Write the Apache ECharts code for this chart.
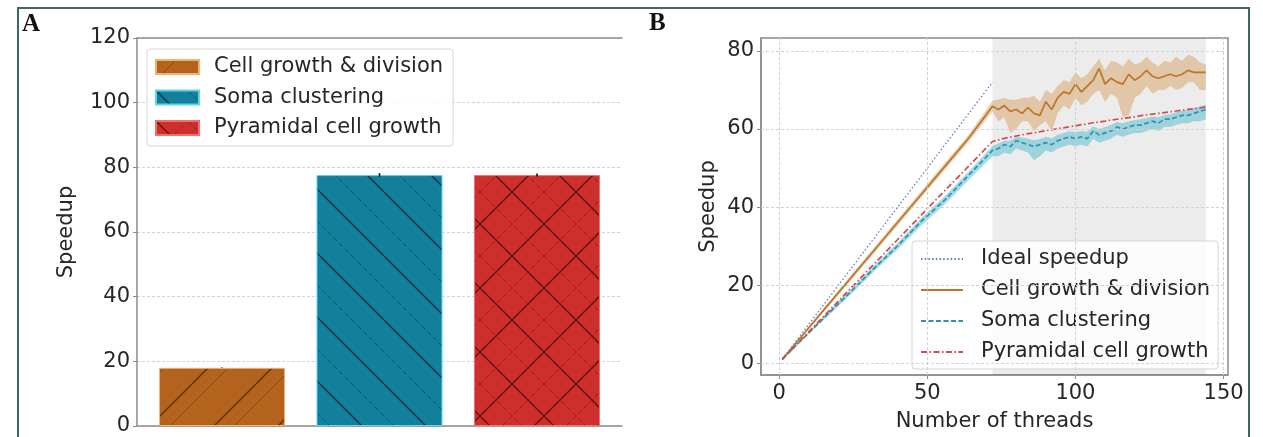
<!DOCTYPE html>
<html>
<head>
<meta charset="utf-8">
<script src="https://cdn.jsdelivr.net/npm/echarts@6/dist/echarts.min.js"></script>
<style>
html,body{margin:0;padding:0;background:#fff;}
#chart{width:1263px;height:437px;}
</style>
</head>
<body>
<div id="chart"></div>
<script>
// ---------- Panel A data ----------
const barCategories = ['Cell growth & division', 'Soma clustering', 'Pyramidal cell growth'];
const barPositions = [0, 1, 2];
const barSpeedup = [18.0, 77.6, 77.6];
const barErrLow = [17.9, 77.1, 77.2];
const barErrHigh = [18.1, 78.2, 78.1];
const yTicksA = [0, 20, 40, 60, 80, 100, 120];

// ---------- Panel B data ----------
const threads = [1, 8, 16, 24, 32, 40, 48, 56, 64, 72,
  74, 76, 78, 80, 82, 84, 86, 88, 90, 92,
  94, 96, 98, 100, 102, 104, 106, 108, 110, 112,
  114, 116, 118, 120, 122, 124, 126, 128, 130, 132,
  134, 136, 138, 140, 142, 144];
const idealThreads = [1, 72];
const idealSpeedup = [1, 72];
const cellMean = [1, 7.3, 14.5, 21.7, 28.9, 36.1, 43.3, 50.5, 57.7, 65.8,
  65, 66, 64.5, 65, 64, 65.5, 64, 63.5, 67, 65,
  68, 69.5, 69, 71.5, 69.5, 71, 72.5, 75.5, 71.5, 73,
  72, 71.5, 74, 72.5, 73.5, 75, 73.5, 73, 73.5, 74,
  73.5, 74, 75, 74.5, 74.5, 74.5];
const cellLow = [1, 7, 14, 21, 28.2, 35.3, 42.5, 49.6, 56.8, 64.5,
  62, 63, 59, 60, 62, 62, 59.5, 61, 62, 59.5,
  64, 66, 65, 68, 66, 67, 69, 70, 67, 69,
  68, 63, 63.5, 68, 69, 71, 69, 70, 70, 71,
  70, 70.5, 72, 72, 70, 70];
const cellHigh = [1, 7.6, 15, 22.4, 29.6, 36.9, 44.1, 51.4, 58.6, 67.2,
  67.5, 68, 67.5, 67.5, 68, 68, 68.5, 67, 70, 69,
  71, 72.5, 72, 74.5, 73, 74, 76, 78, 75, 77.5,
  77, 76, 78, 76.5, 77, 78.5, 77, 76, 77.5, 77,
  78.5, 77.5, 79, 78.5, 77, 76.5];
const somaMean = [1, 6.3, 12.3, 18.2, 24.3, 30.1, 36.4, 41.9, 48.2, 54.5,
  55, 56, 55.5, 57, 56.5, 56, 55.5, 56, 56.5, 56,
  57, 57.5, 58, 57.5, 58, 57.5, 59.5, 58.5, 59, 59.5,
  60.5, 60, 60.5, 61, 61, 61.5, 62, 61.5, 62.5, 62.5,
  63, 63.5, 63.5, 64, 64.5, 65];
const somaLow = [1, 6, 11.8, 17.5, 23.5, 29.2, 35.3, 40.8, 47, 53,
  53, 54, 53.5, 55, 54.5, 54, 52, 53, 54.5, 54,
  55, 55.5, 56, 55.5, 56, 55.5, 57.5, 56.5, 57, 57.5,
  58.5, 58, 58.5, 59, 59, 59.5, 60, 59.5, 60.5, 60.5,
  61, 61.5, 61.5, 62, 62, 62.5];
const somaHigh = [1, 6.6, 12.8, 18.9, 25, 30.9, 37.3, 42.9, 49.2, 55.7,
  56.3, 57, 57, 58, 57.8, 57.5, 57.2, 57.4, 58, 57.6,
  58.5, 59, 59.4, 59.2, 59.5, 59.3, 60.7, 60, 60.5, 61,
  61.8, 61.5, 62, 62.3, 62.5, 62.8, 63.2, 63, 63.6, 63.8,
  64.3, 64.7, 64.8, 65.3, 65.7, 66.2];
const pyrMean = [1, 6.5, 12.8, 19.1, 25.4, 31.7, 38, 44.3, 50.5, 56.8,
  57.2, 57.6, 57.9, 58.2, 58.5, 58.8, 59.0, 59.3, 59.6, 59.8,
  60.1, 60.3, 60.6, 60.8, 61.1, 61.3, 61.6, 61.8, 62.0, 62.3,
  62.5, 62.7, 62.9, 63.1, 63.4, 63.6, 63.8, 64.0, 64.2, 64.4,
  64.6, 64.8, 65.0, 65.2, 65.4, 65.6];
const xTicksB = [0, 50, 100, 150];
const yTicksB = [0, 20, 40, 60, 80];
const shadedRange = [72, 144];
const lineNames = ['Ideal speedup', 'Cell growth & division', 'Soma clustering', 'Pyramidal cell growth'];

// ---------- helpers ----------
const pairs = (xs, ys) => xs.map((x, i) => [x, ys[i]]);
const FONT = 'DejaVu Sans';
const AXIS = '#8c8c8c';
const TXT = '#262626';

function hatch(bg, specs) {
  const P = 64;
  const c = document.createElement('canvas');
  c.width = P; c.height = P;
  const g = c.getContext('2d');
  g.fillStyle = bg; g.fillRect(0, 0, P, P);
  specs.forEach(s => {
    g.strokeStyle = s.color; g.lineWidth = s.width;
    g.setLineDash(s.dash || []);
    for (let k = -1; k <= 1; k++) {
      const o = s.off + k * P;
      g.beginPath();
      if (s.dir === '/') { g.moveTo(o, P); g.lineTo(o + P, 0); }
      else { g.moveTo(o, 0); g.lineTo(o + P, P); }
      g.stroke();
    }
  });
  return { image: c, repeat: 'repeat' };
}

const barFills = [
  hatch('#b3631d', [{dir: '/', off: 0, color: 'rgba(60,25,0,0.75)', width: 1.3},
                    {dir: '/', off: 20, color: 'rgba(60,25,0,0.35)', width: 1}]),
  hatch('#12809b', [{dir: '\\', off: 0, color: 'rgba(0,20,30,0.75)', width: 1.3},
                    {dir: '\\', off: 32, color: 'rgba(0,20,30,0.4)', width: 1, dash: [5, 3]}]),
  hatch('#cd2f2c', [{dir: '/', off: 0, color: 'rgba(50,0,0,0.7)', width: 1.3},
                    {dir: '\\', off: 0, color: 'rgba(50,0,0,0.7)', width: 1.3},
                    {dir: '/', off: 32, color: 'rgba(50,0,0,0.35)', width: 1, dash: [5, 3]},
                    {dir: '\\', off: 32, color: 'rgba(50,0,0,0.35)', width: 1, dash: [5, 3]}])
];
const barEdges = ['#f0b46e', '#5fd3ea', '#f07070'];

const barSeries = barCategories.map((name, i) => ({
  type: 'bar', name: 'A:' + name, xAxisIndex: 0, yAxisIndex: 0,
  data: [[barPositions[i], barSpeedup[i]]],
  barWidth: '80%', barGap: '-100%',
  itemStyle: { color: barFills[i], borderColor: barEdges[i], borderWidth: 1 },
  z: 2
}));

const errSeries = {
  type: 'custom', xAxisIndex: 0, yAxisIndex: 0, silent: true, z: 5,
  data: barPositions.map((x, i) => [x, barErrLow[i], barErrHigh[i]]),
  encode: { x: 0, y: [1, 2] },
  renderItem: (params, api) => {
    const a = api.coord([api.value(0), api.value(1)]);
    const b = api.coord([api.value(0), api.value(2)]);
    return { type: 'line', shape: { x1: a[0], y1: a[1], x2: b[0], y2: b[1] },
             style: { stroke: '#111', lineWidth: 1.6 } };
  }
};

function band(xs, lo, hi, color) {
  return {
    type: 'custom', xAxisIndex: 2, yAxisIndex: 1, silent: true, z: 2, clip: true,
    data: xs.map((x, i) => [x, lo[i], hi[i]]),
    encode: { x: 0, y: [1, 2] },
    renderItem: (params, api) => {
      if (params.dataIndex !== 0) return null;
      const top = xs.map((x, i) => api.coord([x, hi[i]]));
      const bot = xs.map((x, i) => api.coord([x, lo[i]])).reverse();
      return { type: 'polygon', shape: { points: top.concat(bot) }, style: { fill: color } };
    }
  };
}

const gridLineStyle = { color: '#d2d2d2', type: [3, 2], width: 1 };

const bgSeries = {
  type: 'line', name: 'bg', xAxisIndex: 2, yAxisIndex: 1, data: [], z: 0, silent: true,
  markArea: { silent: true, itemStyle: { color: 'rgba(0,0,0,0.075)' },
    data: [[{ xAxis: shadedRange[0] }, { xAxis: shadedRange[1] }]] },
  markLine: { silent: true, symbol: ['none', 'none'], label: { show: false },
    lineStyle: gridLineStyle, animation: false,
    data: xTicksB.map(v => ({ xAxis: v })).concat(yTicksB.map(v => ({ yAxis: v }))) }
};

const lineSeries = [
  { name: 'B:' + lineNames[0], data: pairs(idealThreads, idealSpeedup),
    lineStyle: { color: '#5b80c6', width: 1.3, type: [1.5, 2.2] } },
  { name: 'B:' + lineNames[1], data: pairs(threads, cellMean),
    lineStyle: { color: '#b9772b', width: 1.7 } },
  { name: 'B:' + lineNames[2], data: pairs(threads, somaMean),
    lineStyle: { color: '#2c93b1', width: 1.7, type: [5, 2.5] } },
  { name: 'B:' + lineNames[3], data: pairs(threads, pyrMean),
    lineStyle: { color: '#d44a4a', width: 1.7, type: [6, 2.5, 1.5, 2.5] } }
].map(s => Object.assign({ type: 'line', xAxisIndex: 2, yAxisIndex: 1, symbol: 'none', showSymbol: false, z: 4,
  itemStyle: { color: s.lineStyle.color } }, s));

const strip = n => n.replace(/^[AB]:/, '');

const option = {
  animation: false,
  backgroundColor: '#ffffff',
  textStyle: { fontFamily: FONT },
  grid: [
    { left: 137, top: 38, width: 485, height: 388 },
    { left: 761, top: 38, width: 467, height: 342, show: true, borderColor: AXIS, borderWidth: 1.5 }
  ],
  xAxis: [
    { gridIndex: 0, type: 'value', min: -0.54, max: 2.54,
      axisLine: { show: true, onZero: false, lineStyle: { color: AXIS, width: 1.5 } },
      axisTick: { show: false }, axisLabel: { show: false }, splitLine: { show: false } },
    { gridIndex: 0, type: 'value', position: 'top', min: -0.54, max: 2.54,
      axisLine: { show: true, onZero: false, lineStyle: { color: AXIS, width: 1.5 } },
      axisTick: { show: false }, axisLabel: { show: false }, splitLine: { show: false } },
    { gridIndex: 1, type: 'value', min: -6.15, max: 151.5,
      axisLine: { show: true, onZero: false, lineStyle: { color: AXIS, width: 1.5 } },
      axisTick: { show: true, length: 4, customValues: xTicksB, lineStyle: { color: AXIS } },
      axisLabel: { customValues: xTicksB, fontSize: 21, color: TXT, margin: 8, fontFamily: FONT },
      splitLine: { show: false },
      name: 'Number of threads', nameLocation: 'middle', nameGap: 36,
      nameTextStyle: { fontSize: 21, color: TXT, fontFamily: FONT } }
  ],
  yAxis: [
    { gridIndex: 0, type: 'value', min: yTicksA[0], max: yTicksA[yTicksA.length - 1], interval: 20,
      axisLine: { show: true, onZero: false, lineStyle: { color: AXIS, width: 1.5 } },
      axisTick: { show: true, length: 4, lineStyle: { color: AXIS } },
      axisLabel: { fontSize: 21, color: TXT, margin: 7, fontFamily: FONT },
      splitLine: { show: true, lineStyle: gridLineStyle },
      name: 'Speedup', nameLocation: 'middle', nameGap: 60,
      nameTextStyle: { fontSize: 21, color: TXT, fontFamily: FONT } },
    { gridIndex: 1, type: 'value', min: -3, max: 83.3,
      axisLine: { show: true, onZero: false, lineStyle: { color: AXIS, width: 1.5 } },
      axisTick: { show: true, length: 4, customValues: yTicksB, lineStyle: { color: AXIS } },
      axisLabel: { customValues: yTicksB, fontSize: 21, color: TXT, margin: 7, fontFamily: FONT },
      splitLine: { show: false },
      name: 'Speedup', nameLocation: 'middle', nameGap: 42,
      nameTextStyle: { fontSize: 21, color: TXT, fontFamily: FONT } }
  ],
  legend: [
    { left: 147, top: 49, orient: 'vertical', icon: 'rect', itemWidth: 43, itemHeight: 14,
      itemGap: 8.5, padding: [7, 10, 7, 8], borderColor: '#d4d4d4', borderWidth: 1, borderRadius: 3,
      backgroundColor: 'rgba(255,255,255,0.85)', selectedMode: false,
      textStyle: { fontSize: 21, lineHeight: 22, color: TXT, fontFamily: FONT, padding: [0, 0, 0, 10] },
      data: barCategories.map(n => 'A:' + n), formatter: strip },
    { left: 912, top: 241, orient: 'vertical', itemWidth: 42, itemHeight: 14,
      itemGap: 9, padding: [7, 8, 6, 8], borderColor: '#d4d4d4', borderWidth: 1, borderRadius: 3,
      backgroundColor: 'rgba(255,255,255,0.85)', selectedMode: false,
      itemStyle: { color: 'transparent', borderColor: 'transparent', borderWidth: 0, opacity: 0 },
      textStyle: { fontSize: 21, lineHeight: 22, color: TXT, fontFamily: FONT, padding: [0, 0, 0, 13] },
      data: lineNames.map(n => 'B:' + n), formatter: strip }
  ],
  graphic: [
    { type: 'rect', silent: true, z: 100, shape: { x: 18, y: 8, width: 1231, height: 450 },
      style: { fill: 'none', stroke: '#3e6a58', lineWidth: 2 } },
    { type: 'text', silent: true, left: 22, top: 12,
      style: { text: 'A', font: 'bold 25px "Liberation Serif"', fill: '#111' } },
    { type: 'text', silent: true, left: 649, top: 11,
      style: { text: 'B', font: 'bold 25px "Liberation Serif"', fill: '#111' } }
  ],
  series: [
    ...barSeries, errSeries, bgSeries,
    band(threads, cellLow, cellHigh, 'rgba(214,160,100,0.5)'),
    band(threads, somaLow, somaHigh, 'rgba(80,185,205,0.5)'),
    ...lineSeries
  ]
};

const chart = echarts.init(document.getElementById('chart'), null, { renderer: 'canvas' });
chart.setOption(option);
</script>
</body>
</html>
